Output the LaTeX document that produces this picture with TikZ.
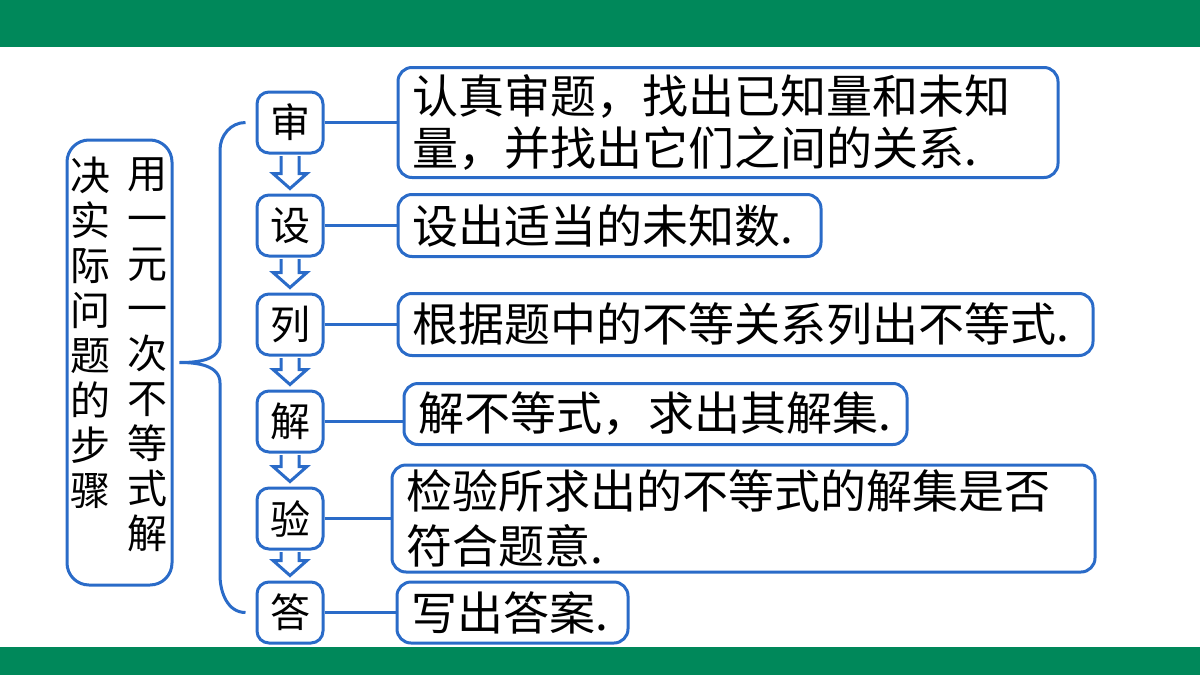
\documentclass[tikz,border=0pt]{standalone}
\usepackage{fontspec}
\setmainfont{Noto Sans CJK SC}
\usetikzlibrary{positioning,calc}
\definecolor{stepblue}{HTML}{2A6BC8}
\definecolor{bargreen}{HTML}{00885A}

\begin{document}
\begin{tikzpicture}[
  x=0.5pt, y=-0.5pt,
  stepbox/.style={draw=stepblue, line width=1.5pt, rounded corners=6pt, fill=white,
    minimum width=33pt, minimum height=30.5pt, inner sep=0pt, font=\fontsize{20}{22}\selectfont},
  note/.style={draw=stepblue, line width=1.5pt, rounded corners=7pt, fill=white,
    inner xsep=7pt, inner ysep=2pt, align=left, font=\fontsize{23}{26}\selectfont},
  goalbox/.style={draw=stepblue, line width=1.5pt, rounded corners=11pt,
    minimum width=52.5pt, minimum height=222.5pt},
  coltext/.style={anchor=north, inner sep=0pt, align=center, font=\fontsize{20}{22.5}\selectfont},
  link/.style={stepblue, line width=1.5pt},
  hollow/.style={draw=stepblue, fill=white, line width=1.5pt, line join=miter}
]
\useasboundingbox (0,0) rectangle (1200,675);

% title bars
\fill[bargreen] (0,0) rectangle (1200,47);
\fill[bargreen] (0,647) rectangle (1200,675);

% goal box
\node[goalbox] (goal) at (119.5,362.5) {};
\node[coltext] (colA) at (147,157) {用\\一\\元\\一\\次\\不\\等\\式\\解};
\node[coltext] (colB) at (90,157) {决\\实\\际\\问\\题\\的\\步\\骤};

% steps
\node[stepbox] (s1) at (290,122.5) {审};
\node[stepbox, below=19.5pt of s1] (s2) {设};
\node[stepbox, below=17.5pt of s2] (s3) {列};
\node[stepbox, below=16.5pt of s3] (s4) {解};
\node[stepbox, below=16.5pt of s4] (s5) {验};
\node[stepbox, below=15pt of s5] (s6) {答};

% notes
\node[note, right=36pt of s1, text width=316pt, minimum height=55pt] (n1)
{认真审题，找出已知量和未知\\量，并找出它们之间的关系.};
\node[note, right=36pt of s2, text width=197.5pt, minimum height=31pt] (n2)
{设出适当的未知数.};
\node[note, right=36pt of s3, text width=333.5pt, minimum height=31pt] (n3)
{根据题中的不等关系列出不等式.};
\node[note, right=39pt of s4, yshift=3.75pt, text width=237.5pt, minimum height=30.5pt] (n4)
{解不等式，求出其解集.};
\node[note, right=33pt of s5, text width=337.5pt, minimum height=53.5pt,
  font=\fontsize{23}{27.5}\selectfont] (n5)
{检验所求出的不等式的解集是否\\符合题意.};
\node[note, right=35.5pt of s6, text width=101.5pt, minimum height=30.5pt] (n6)
{写出答案.};

% step to note
\foreach \i in {1,...,6}
  \draw[link] (s\i) -- (s\i -| n\i.west);

% hollow arrows
\foreach \a/\b in {s1/s2, s2/s3, s3/s4, s4/s5, s5/s6}
  \draw[hollow] ($(\a.south)+(-9,1.5)$) -- ($(\b.north)+(-9,-20)$) -- ($(\b.north)+(-17,-20)$)
    -- ($(\b.north)+(0,-5)$) -- ($(\b.north)+(17,-20)$) -- ($(\b.north)+(9,-20)$)
    -- ($(\a.south)+(9,1.5)$);

% brace
\draw[link] ($(s1.west)+(-10,0)$) to[out=180,in=90] (220,150) -- (220,343)
  to[out=270,in=0] ($(goal.east)+(6,0)$) to[out=0,in=90] (220,383) -- (220,575)
  to[out=270,in=180] ($(s6.west)+(-10,0)$);
\end{tikzpicture}
\end{document}
